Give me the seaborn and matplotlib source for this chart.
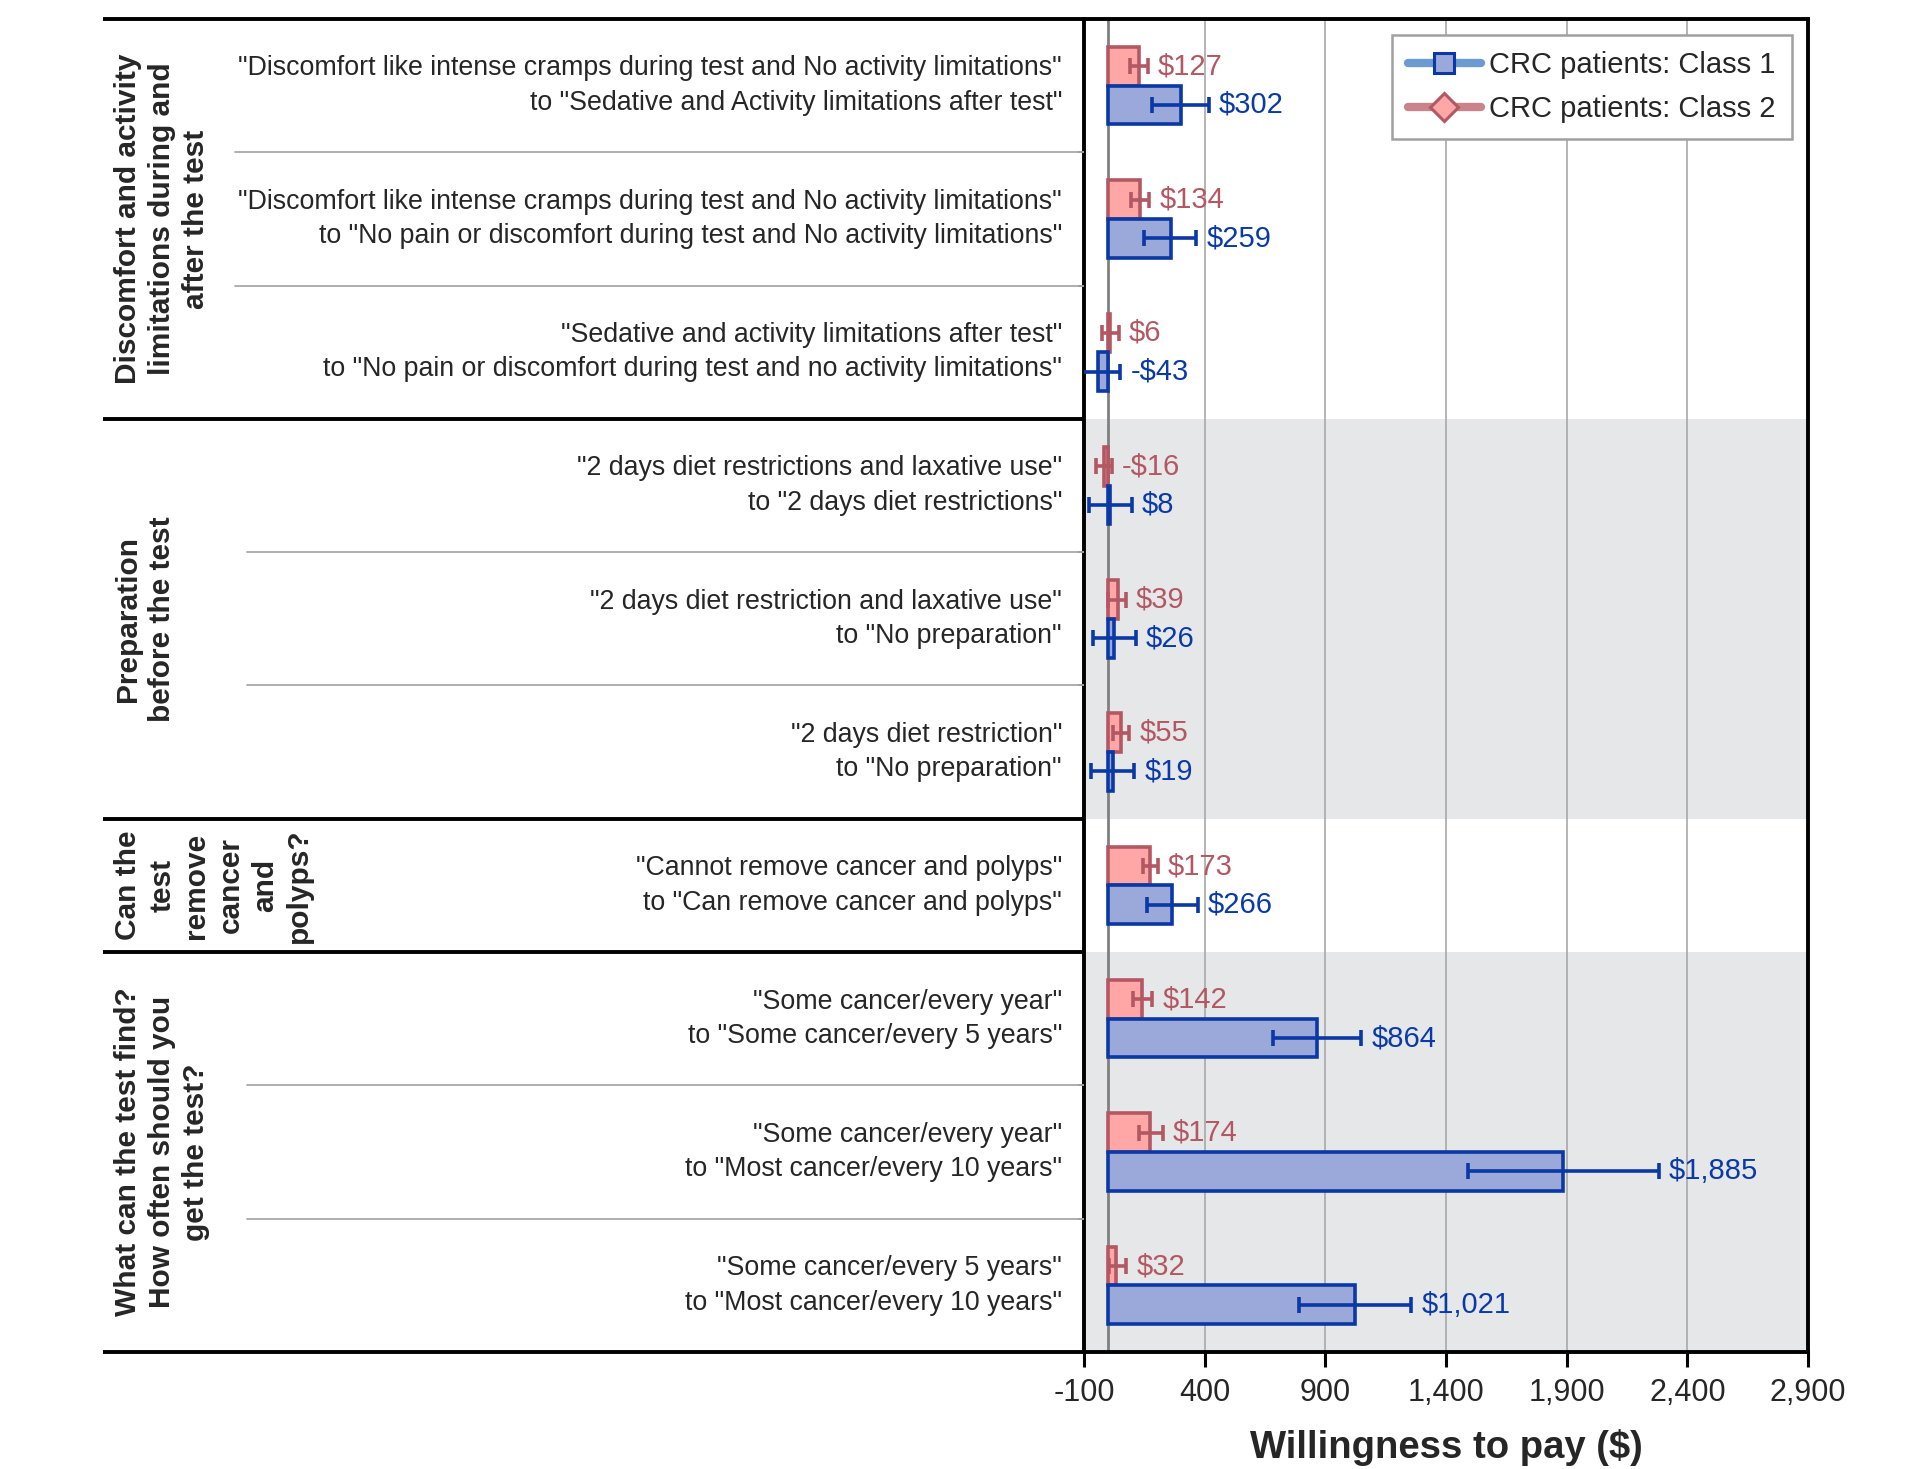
import matplotlib
matplotlib.use("Agg")
import matplotlib.pyplot as plt
import matplotlib.transforms as mtransforms
from matplotlib.lines import Line2D
import pandas as pd
import seaborn as sns

# ── data ──────────────────────────────────────────────────────────────────────
ROW_LABELS = [
    '"Discomfort like intense cramps during test and No activity limitations"\nto "Sedative and Activity limitations after test"',
    '"Discomfort like intense cramps during test and No activity limitations"\nto "No pain or discomfort during test and No activity limitations"',
    '"Sedative and activity limitations after test"\nto "No pain or discomfort during test and no activity limitations"',
    '"2 days diet restrictions and laxative use"\nto "2 days diet restrictions"',
    '"2 days diet restriction and laxative use"\nto "No preparation"',
    '"2 days diet restriction"\nto "No preparation"',
    '"Cannot remove cancer and polyps"\nto "Can remove cancer and polyps"',
    '"Some cancer/every year"\nto "Some cancer/every 5 years"',
    '"Some cancer/every year"\nto "Most cancer/every 10 years"',
    '"Some cancer/every 5 years"\nto "Most cancer/every 10 years"',
]
GROUP_LABELS = [
    "Discomfort and activity\nlimitations during and\nafter the test",
    "Preparation\nbefore the test",
    "Can the\ntest\nremove\ncancer\nand\npolyps?",
    "What can the test find?\nHow often should you\nget the test?",
]
GROUP_SPANS = [(0, 2), (3, 5), (6, 6), (7, 9)]
SHADED_GROUPS = [1, 3]

CLASS1 = "CRC patients: Class 1"
CLASS2 = "CRC patients: Class 2"

WTP_C1 = [302, 259, -43, 8, 26, 19, 266, 864, 1885, 1021]
LO_C1 = [181, 150, -131, -79, -61, -70, 163, 682, 1490, 790]
HI_C1 = [416, 366, 51, 99, 115, 109, 371, 1049, 2282, 1257]

WTP_C2 = [127, 134, 6, -16, 39, 55, 173, 142, 174, 32]
LO_C2 = [90, 96, -27, -49, 0, 22, 145, 104, 126, 2]
HI_C2 = [164, 170, 44, 17, 74, 88, 205, 183, 227, 75]

XTICKS = list(range(-100, 2901, 500))

# ── styling ───────────────────────────────────────────────────────────────────
BLUE_FILL, BLUE_EDGE, BLUE_TXT, BLUE_LINE = "#9aa8da", "#0a38a4", "#0a3aa8", "#6b9bd0"
PINK_FILL, PINK_EDGE, PINK_TXT, PINK_LINE = "#ffa6a6", "#b35862", "#b35862", "#c9838a"
BAND = "#e6e7e9"
GRID = "#a8a8a8"

sns.set_theme(style="white")
plt.rcParams["font.family"] = ["Liberation Sans Narrow", "Liberation Sans", "DejaVu Sans"]

W, H = 1916, 1469
AX_L, AX_R, AX_T, AX_B = 1084, 1808, 19, 1352
TAB_L = 103

fig = plt.figure(figsize=(W / 100, H / 100), dpi=100)
ax = fig.add_axes([AX_L / W, 1 - AX_B / H, (AX_R - AX_L) / W, (AX_B - AX_T) / H])
axl = fig.add_axes([TAB_L / W, 1 - AX_B / H, (AX_L - TAB_L) / W, (AX_B - AX_T) / H])

df = pd.DataFrame({
    "row": ROW_LABELS * 2,
    "cls": [CLASS1] * len(ROW_LABELS) + [CLASS2] * len(ROW_LABELS),
    "wtp": WTP_C1 + WTP_C2,
})

# shaded groups + grid
for g in SHADED_GROUPS:
    a, b = GROUP_SPANS[g]
    ax.axhspan(a - 0.5, b + 0.5, color=BAND, lw=0, zorder=0)
for v in XTICKS[1:-1]:
    ax.axvline(v, color=GRID, lw=1.2, zorder=1)
ax.axvline(0, color="#808080", lw=2.0, zorder=1)

sns.barplot(data=df, y="row", x="wtp", hue="cls", order=ROW_LABELS,
            hue_order=[CLASS2, CLASS1], palette=[PINK_FILL, BLUE_FILL],
            orient="h", width=0.58, errorbar=None, legend=False,
            saturation=1, linewidth=2.6, ax=ax, zorder=3)

for p in ax.patches:
    yc = p.get_y() + p.get_height() / 2
    p.set_edgecolor(PINK_EDGE if yc < round(yc) else BLUE_EDGE)

txt_off = mtransforms.offset_copy(ax.transData, fig=fig, x=10, y=0, units="dots")
for wtp, lo, hi, dy, col, tcol in [(WTP_C2, LO_C2, HI_C2, -0.145, PINK_EDGE, PINK_TXT),
                                   (WTP_C1, LO_C1, HI_C1, 0.145, BLUE_EDGE, BLUE_TXT)]:
    ys = [i + dy for i in range(len(wtp))]
    ax.errorbar(wtp, ys, xerr=[[w - l for w, l in zip(wtp, lo)], [h - w for w, h in zip(wtp, hi)]],
                fmt="none", ecolor=col, elinewidth=2.6, capsize=6, capthick=2.6, zorder=4)
    for w, h, y in zip(wtp, hi, ys):
        s = f"${w:,}" if w >= 0 else f"-${-w:,}"
        ax.text(max(w, h), y, s, transform=txt_off, ha="left", va="center",
                fontsize=21, color=tcol, zorder=5)

ax.set_xlim(-100, 2900)
ax.set_ylim(len(ROW_LABELS) - 0.5, -0.5)
ax.set_xticks(XTICKS)
ax.set_xticklabels([f"{v:,}" for v in XTICKS])
ax.set_yticks([i + 0.5 for i in range(len(ROW_LABELS) - 1)])
ax.set_yticklabels([])
ax.tick_params(axis="x", bottom=True, length=11, width=2.2, color="black",
               labelsize=22, pad=8, direction="out")
ax.tick_params(axis="y", left=True, length=4, width=1.4, color="#555555", direction="out")
ax.set_ylabel("")
ax.set_xlabel("Willingness to pay ($)", fontsize=27.5, fontweight="bold", labelpad=15)
for sp in ax.spines.values():
    sp.set_visible(True)
    sp.set_color("black")
    sp.set_linewidth(2.8)

handles = [
    Line2D([], [], color=BLUE_LINE, lw=6, marker="s", markersize=15,
           markerfacecolor=BLUE_FILL, markeredgecolor=BLUE_EDGE, markeredgewidth=2.2),
    Line2D([], [], color=PINK_LINE, lw=6, marker="D", markersize=14,
           markerfacecolor=PINK_FILL, markeredgecolor=PINK_EDGE, markeredgewidth=2.2),
]
leg = ax.legend(handles, [CLASS1, CLASS2], loc="upper right", fontsize=21,
                frameon=True, fancybox=False, edgecolor="#a0a0a0", framealpha=1,
                handlelength=2.5, handletextpad=0.3, labelspacing=0.55,
                borderpad=0.55, borderaxespad=0.55)
leg.get_frame().set_linewidth(1.8)

# ── left "table": group labels, row labels, separators ────────────────────────
axl.set_xlim(TAB_L, AX_L)
axl.set_ylim(len(ROW_LABELS) - 0.5, -0.5)
axl.axis("off")

for g, (a, b) in enumerate(GROUP_SPANS):
    axl.plot([TAB_L, AX_L], [a - 0.5, a - 0.5], color="black", lw=2.8,
             solid_capstyle="butt", clip_on=False)
    axl.text(114, (a + b) / 2, GROUP_LABELS[g], rotation=90, ha="left", va="center",
             fontsize=21.5, fontweight="bold", multialignment="center", linespacing=1.28)
    x0 = 235 if g == 0 else 247
    for r in range(a, b):
        axl.plot([x0, AX_L], [r + 0.5, r + 0.5], color=GRID, lw=1.3)
axl.plot([TAB_L, AX_L], [len(ROW_LABELS) - 0.5] * 2, color="black", lw=2.8,
         solid_capstyle="butt", clip_on=False)

for i, lab in enumerate(ROW_LABELS):
    axl.text(1062, i, lab, ha="right", va="center", fontsize=19.3,
             multialignment="right", linespacing=1.42)

fig.savefig("out.png", dpi=100)
